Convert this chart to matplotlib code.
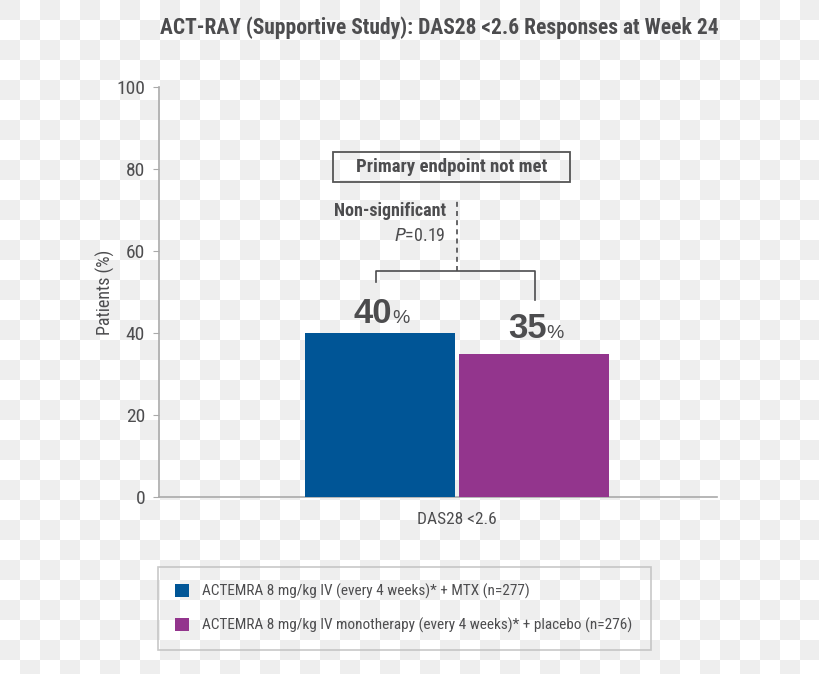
import numpy as np
import matplotlib
matplotlib.use("Agg")
import matplotlib.pyplot as plt
from matplotlib.patches import Rectangle

plt.rcParams['font.family'] = ['Roboto Condensed', 'DejaVu Sans']

title = "ACT-RAY (Supportive Study): DAS28 <2.6 Responses at Week 24"
category = "DAS28 <2.6"
groups = ["ACTEMRA 8 mg/kg IV (every 4 weeks)* + MTX (n=277)",
          "ACTEMRA 8 mg/kg IV monotherapy (every 4 weeks)* + placebo (n=276)"]
values = [40, 35]
colors = ["#005596", "#93358d"]
yticks = [0, 20, 40, 60, 80, 100]
p_value = "0.19"

TXT = "#4d4d4f"

fig = plt.figure(figsize=(8.2, 6.74), dpi=100)

# checkerboard background
yy, xx = np.indices((674, 820))
checker = np.where(((yy // 20) + (xx // 20)) % 2 == 0, 0.937, 1.0)
fig.figimage(np.dstack([checker] * 3), xo=0, yo=0, origin='upper', zorder=-10)

ax = fig.add_axes([159 / 820, 1 - 497 / 674, 558 / 820, 410 / 674])
ax.set_facecolor('none')

xpos = [-0.5, 0.5]
bars = []
for x, v, c, g in zip(xpos, values, colors, groups):
    bars.append(ax.bar(x, v, width=0.974, color=c, label=g, zorder=3))

ax.set_xlim(-1.935, 1.688)
ax.set_ylim(0, 100)
ax.set_yticks(yticks)
ax.set_yticklabels([str(t) for t in yticks], fontsize=14, color=TXT)
ax.tick_params(axis='y', length=4, color="#aaaaaa", pad=6)
ax.set_xticks([0])
ax.set_xticklabels([category], fontsize=12.5, color=TXT)
ax.tick_params(axis='x', length=0, pad=11)
for s in ['top', 'right']:
    ax.spines[s].set_visible(False)
for s in ['left', 'bottom']:
    ax.spines[s].set_color("#aaaaaa")
    ax.spines[s].set_linewidth(1.2)
ax.set_ylabel("Patients (%)", fontsize=13, color=TXT, labelpad=1)

# value labels
offsets = [2.5, 3.9]
for x, v, off in zip(xpos, values, offsets):
    ax.text(x + 0.08, v + off, f"{v}", ha='right', va='baseline', fontsize=25,
            fontweight='bold', color=TXT, fontfamily=['Liberation Sans', 'DejaVu Sans'])
    ax.text(x + 0.08, v + off, "%", ha='left', va='baseline', fontsize=14,
            color=TXT, fontfamily=['Liberation Sans', 'DejaVu Sans'])

# bracket and significance
ax.plot([-0.526, -0.526, 0.506, 0.506], [52.4, 55.1, 55.1, 48.0],
        color="#4d4d4f", lw=1.2, zorder=4)
ax.plot([0, 0], [55.1, 72.5], color="#4d4d4f", lw=1.2, ls=(0, (3, 2.5)))
ax.text(-0.071, 69.8, "Non-significant", ha='right', va='center',
        fontsize=13, fontweight='bold', color=TXT)
ax.text(-0.071, 63.7, f"$\\it{{P}}$={p_value}", ha='right', va='center',
        fontsize=13, color=TXT)

# primary endpoint box
ax.add_patch(Rectangle((-0.805, 76.8), 1.539, 7.3, fill=False,
                       edgecolor="#555555", lw=1.3, clip_on=False))
ax.text(-0.035, 80.5, "Primary endpoint not met", ha='center', va='center',
        fontsize=13.5, fontweight='bold', color=TXT)

fig.text(439 / 820, 1 - 28 / 674, title, ha='center', va='center',
         fontsize=15.5, fontweight='bold', color=TXT)

leg = fig.legend(handles=[b[0] for b in bars], labels=groups,
                 loc='center', mode='expand',
                 bbox_to_anchor=(158 / 820, 1 - 651 / 674, 493 / 820, 85 / 674),
                 fontsize=11, frameon=True, fancybox=False,
                 handlelength=0.95, handleheight=0.95, handletextpad=0.85,
                 labelspacing=1.2, borderpad=1.1, borderaxespad=0)
leg.get_frame().set_edgecolor("#bbbbbb")
leg.get_frame().set_facecolor('none')
leg.get_frame().set_linewidth(1.2)
for t in leg.get_texts():
    t.set_color(TXT)

fig.savefig("out.png", dpi=100)
